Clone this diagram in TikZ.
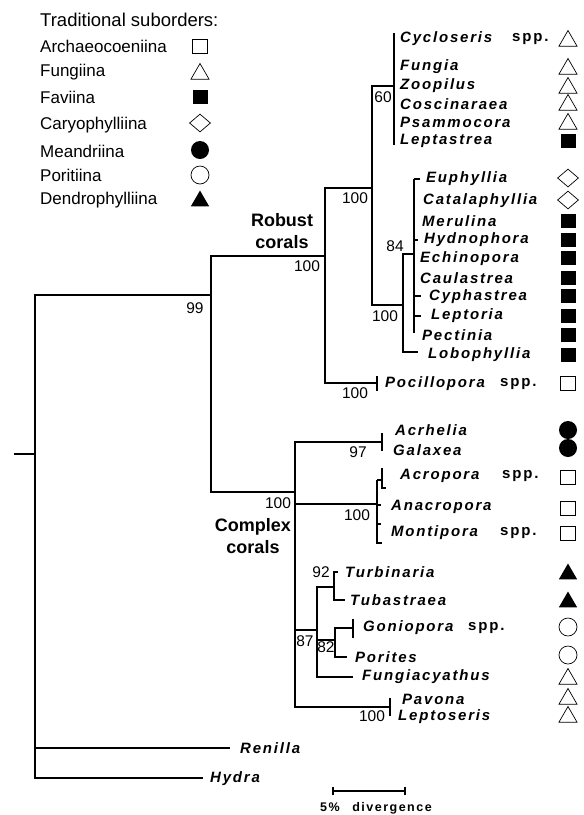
\documentclass[tikz,border=0pt]{standalone}
\usepackage{fontspec}
\setmainfont{Liberation Sans}
\newfontfamily\taxafont[LetterSpace=12]{Liberation Sans}
\usetikzlibrary{shapes.geometric}

\begin{document}
\begin{tikzpicture}[x=1pt,y=-1pt,
  tree/.style={line width=1.7pt},
  taxon/.style={anchor=west,inner sep=0pt,font=\fontsize{15}{17}\selectfont\taxafont\bfseries\itshape},
  spp/.style={anchor=west,inner sep=0pt,font=\fontsize{15}{17}\selectfont\taxafont\bfseries},
  boot/.style={inner sep=0pt,font=\fontsize{15.5}{17}\selectfont},
  group/.style={align=center,inner sep=0pt,font=\fontsize{18}{22}\selectfont\bfseries},
  legend/.style={anchor=west,inner sep=0pt,font=\fontsize{17}{19}\selectfont},
  arch/.style={draw,line width=0.7pt,minimum width=15pt,minimum height=14pt,inner sep=0pt},
  fung/.style={draw,line width=0.7pt,regular polygon,regular polygon sides=3,minimum size=21pt,inner sep=0pt},
  fav/.style={fill,minimum width=15pt,minimum height=14pt,inner sep=0pt},
  caryo/.style={draw,line width=0.7pt,diamond,minimum width=21pt,minimum height=18pt,inner sep=0pt},
  mean/.style={circle,fill,minimum size=18pt,inner sep=0pt},
  porit/.style={circle,draw,line width=0.7pt,minimum size=18pt,inner sep=0pt},
  dendro/.style={fill,regular polygon,regular polygon sides=3,minimum size=21pt,inner sep=0pt},
]
\useasboundingbox (0,0) rectangle (584,815);

% legend
\node[legend,font=\fontsize{18.5}{20}\selectfont] (legtitle) at (40,20) {Traditional suborders:};
\node[legend] (leg1) at (40,46) {Archaeocoeniina};
\node[legend] (leg2) at (40,72) {Fungiina};
\node[legend] (leg3) at (40,97) {Faviina};
\node[legend] (leg4) at (40,125) {Caryophylliina};
\node[legend] (leg5) at (40,151) {Meandriina};
\node[legend] (leg6) at (40,175) {Poritiina};
\node[legend] (leg7) at (40,200) {Dendrophylliina};
\node[arch] (legs1) at (200,46) {};
\node[fung] (legs2) at (200,74) {};
\node[fav] (legs3) at (200,97) {};
\node[caryo] (legs4) at (200,123) {};
\node[mean] (legs5) at (200,150) {};
\node[porit] (legs6) at (200,175) {};
\node[dendro] (legs7) at (200,201) {};

% internal nodes
\coordinate (stub) at (14,454);
\coordinate (root) at (35,454);
\coordinate (n99) at (211,295);
\coordinate (robust) at (325,256);
\coordinate (n100a) at (372,188);
\coordinate (n60) at (394,86);
\coordinate (n100b) at (403,305);
\coordinate (n84) at (414,254);
\coordinate (complex) at (295,492);
\coordinate (n97) at (382,442);
\coordinate (n100c) at (377,504);
\coordinate (n87) at (317,630);
\coordinate (n92) at (334,587);
\coordinate (n82) at (335,640);
\coordinate (n100d) at (390,707);
% branch tips
\coordinate (renilla) at (230,748);
\coordinate (hydra) at (203,778);
\coordinate (pocil) at (377,383);
\coordinate (lobo) at (418,352);
\coordinate (fungiac) at (353,677);
\coordinate (turbi) at (338,572);
\coordinate (tubas) at (345,600);
\coordinate (gonio) at (353,628);
\coordinate (porit) at (347,657);

\draw[tree] (stub) -- (root);
\draw[tree] (root) |- (n99);
\draw[tree] (root) |- (renilla);
\draw[tree] (root) |- (hydra);
\draw[tree] (n99) |- (robust);
\draw[tree] (n99) |- (complex);
\draw[tree] (robust) |- (n100a);
\draw[tree] (robust) |- (pocil);
\draw[tree] (n100a) |- (n60);
\draw[tree] (n100a) |- (n100b);
\draw[tree] (n100b) |- (n84);
\draw[tree] (n100b) |- (lobo);
\draw[tree] (complex) |- (n97);
\draw[tree] (complex) |- (n100c);
\draw[tree] (complex) |- (n87);
\draw[tree] (complex) |- (n100d);
\draw[tree] (n87) |- (n92);
\draw[tree] (n87) |- (n82);
\draw[tree] (n87) |- (fungiac);
\draw[tree] (n92) |- (turbi);
\draw[tree] (n92) |- (tubas);
\draw[tree] (n82) |- (gonio);
\draw[tree] (n82) |- (porit);

% short leaf ticks
\draw[tree] (394,33) -- (394,145);
\draw[tree] (414,179) -- (414,333);
\draw[tree] (414,179) -- (420,179);
\draw[tree] (414,240) -- (418,240);
\draw[tree] (414,296) -- (421,296);
\draw[tree] (414,316) -- (421,316);
\draw[tree] (382,433) -- (382,451);
\draw[tree] (377,376) -- (377,391);
\draw[tree] (377,480) -- (377,543) -- (382,543);
\draw[tree] (377,480) -- (382,480);
\draw[tree] (382,468) -- (382,488) -- (386,488);
\draw[tree] (377,505) -- (381,505);
\draw[tree] (377,524) -- (381,524);
\draw[tree] (353,619) -- (353,638);
\draw[tree] (390,698) -- (390,716);

% bootstrap values
\node[boot] (b99) at (195,308) {99};
\node[boot] (b100a) at (307,266) {100};
\node[boot] (b100b) at (355,198) {100};
\node[boot] (b60) at (383,97) {60};
\node[boot] (b84) at (395,246) {84};
\node[boot] (b100c) at (385,316) {100};
\node[boot] (b100d) at (355,393) {100};
\node[boot] (b100e) at (278,503) {100};
\node[boot] (b97) at (358,452) {97};
\node[boot] (b100f) at (357,515) {100};
\node[boot] (b92) at (321,572) {92};
\node[boot] (b87) at (305,641) {87};
\node[boot] (b82) at (326,647) {82};
\node[boot] (b100g) at (372,716) {100};

\node[group] (robustlab) at (282,231) {Robust\\corals};
\node[group] (complexlab) at (253,536) {Complex\\corals};

% taxa
\node[taxon] (cycl) at (400,39) {Cycloseris};
\node[spp] (cyclspp) at (512,39) {spp.};
\node[taxon] (fung) at (400,67) {Fungia};
\node[taxon] (zoop) at (400,86) {Zoopilus};
\node[taxon] (cosc) at (400,104) {Coscinaraea};
\node[taxon] (psam) at (400,122) {Psammocora};
\node[taxon] (leptas) at (400,141) {Leptastrea};
\node[taxon] (euph) at (426,179) {Euphyllia};
\node[taxon] (cata) at (423,201) {Catalaphyllia};
\node[taxon] (meru) at (422,221) {Merulina};
\node[taxon] (hydn) at (424,240) {Hydnophora};
\node[taxon] (echi) at (420,259) {Echinopora};
\node[taxon] (caul) at (420,278) {Caulastrea};
\node[taxon] (cyph) at (429,297) {Cyphastrea};
\node[taxon] (lepto) at (431,316) {Leptoria};
\node[taxon] (pect) at (422,335) {Pectinia};
\node[taxon] (loph) at (428,355) {Lobophyllia};
\node[taxon] (poci) at (385,384) {Pocillopora};
\node[spp] (pocispp) at (500,384) {spp.};
\node[taxon] (acrh) at (395,430) {Acrhelia};
\node[taxon] (gala) at (393,450) {Galaxea};
\node[taxon] (acro) at (400,476) {Acropora};
\node[spp] (acrospp) at (502,476) {spp.};
\node[taxon] (anac) at (391,507) {Anacropora};
\node[taxon] (mont) at (391,533) {Montipora};
\node[spp] (montspp) at (500,533) {spp.};
\node[taxon] (turb) at (345,572) {Turbinaria};
\node[taxon] (tuba) at (350,600) {Tubastraea};
\node[taxon] (goni) at (363,628) {Goniopora};
\node[spp] (gonispp) at (468,628) {spp.};
\node[taxon] (pori) at (355,657) {Porites};
\node[taxon] (fuac) at (362,677) {Fungiacyathus};
\node[taxon] (pavo) at (402,699) {Pavona};
\node[taxon] (leps) at (398,717) {Leptoseris};
\node[taxon] (reni) at (240,748) {Renilla};
\node[taxon] (hydr) at (210,779) {Hydra};

% suborder symbols
\node[fung] (s1) at (568,41) {};
\node[fung] (s2) at (568,69) {};
\node[fung] (s3) at (568,88) {};
\node[fung] (s4) at (568,105) {};
\node[fung] (s5) at (568,124) {};
\node[fav] (s6) at (568,141) {};
\node[caryo] (s7) at (568,178) {};
\node[caryo] (s8) at (568,200) {};
\node[fav] (s9) at (568,221) {};
\node[fav] (s10) at (568,240) {};
\node[fav] (s11) at (568,258) {};
\node[fav] (s12) at (568,278) {};
\node[fav] (s13) at (568,296) {};
\node[fav] (s14) at (568,316) {};
\node[fav] (s15) at (568,335) {};
\node[fav] (s16) at (568,355) {};
\node[arch] (s17) at (568,383) {};
\node[mean] (s18) at (568,430) {};
\node[mean] (s19) at (568,448) {};
\node[arch] (s20) at (568,477) {};
\node[arch] (s21) at (568,508) {};
\node[arch] (s22) at (568,533) {};
\node[dendro] (s23) at (568,574) {};
\node[dendro] (s24) at (568,602) {};
\node[porit] (s25) at (568,627) {};
\node[porit] (s26) at (568,655) {};
\node[fung] (s27) at (568,679) {};
\node[fung] (s28) at (568,699) {};
\node[fung] (s29) at (568,717) {};

% scale bar
\coordinate (bar1) at (333,791);
\coordinate (bar2) at (405,791);
\draw[tree] (bar1) -- (bar2);
\draw[tree] ([yshift=-4pt]bar1) -- ([yshift=4pt]bar1);
\draw[tree] ([yshift=-4pt]bar2) -- ([yshift=4pt]bar2);
\node[inner sep=0pt,font=\fontsize{12.5}{14}\selectfont\taxafont\bfseries] (barlab) at (376,808) {5\%\quad divergence};

\end{tikzpicture}
\end{document}
